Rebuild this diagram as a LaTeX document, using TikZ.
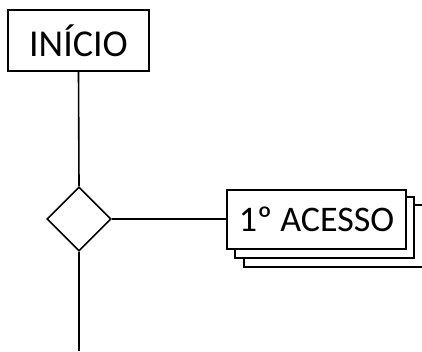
\documentclass[tikz,border=0pt]{standalone}
\usepackage{fontspec}
\setmainfont{Carlito}
\usetikzlibrary{shapes.geometric}
\begin{document}
\begin{tikzpicture}[x=1pt,y=-1pt,
  ln/.style={line width=1.6pt},
  box/.style={draw,line width=1.6pt,fill=white,inner sep=0pt,font=\fontsize{38}{40}\selectfont},
  dec/.style={draw,line width=1.6pt,diamond,aspect=1,minimum width=64pt,minimum height=64pt,inner sep=0pt}]
\useasboundingbox (0,0) rectangle (422,351);
\node[box,minimum width=141pt,minimum height=61pt] (ini) at (78.5,40.5) {INÍCIO};
\node[dec] (d) at (79,219) {};
\coordinate (bot) at (79,351);
\node[box,minimum width=185pt,minimum height=62pt] (b3) at (336.5,236) {};
\node[box,minimum width=179pt,minimum height=61pt] (b2) at (324.5,227.5) {};
\node[box,minimum width=179pt,minimum height=59pt,font=\fontsize{36}{38}\selectfont] (b1) at (316.5,219.5) {1º ACESSO};
\draw[ln] (ini.south) -- (d.north);
\draw[ln] (d.east) -- (b1.west |- d.east);
\draw[ln] (d.south) -- (bot);
\end{tikzpicture}
\end{document}
